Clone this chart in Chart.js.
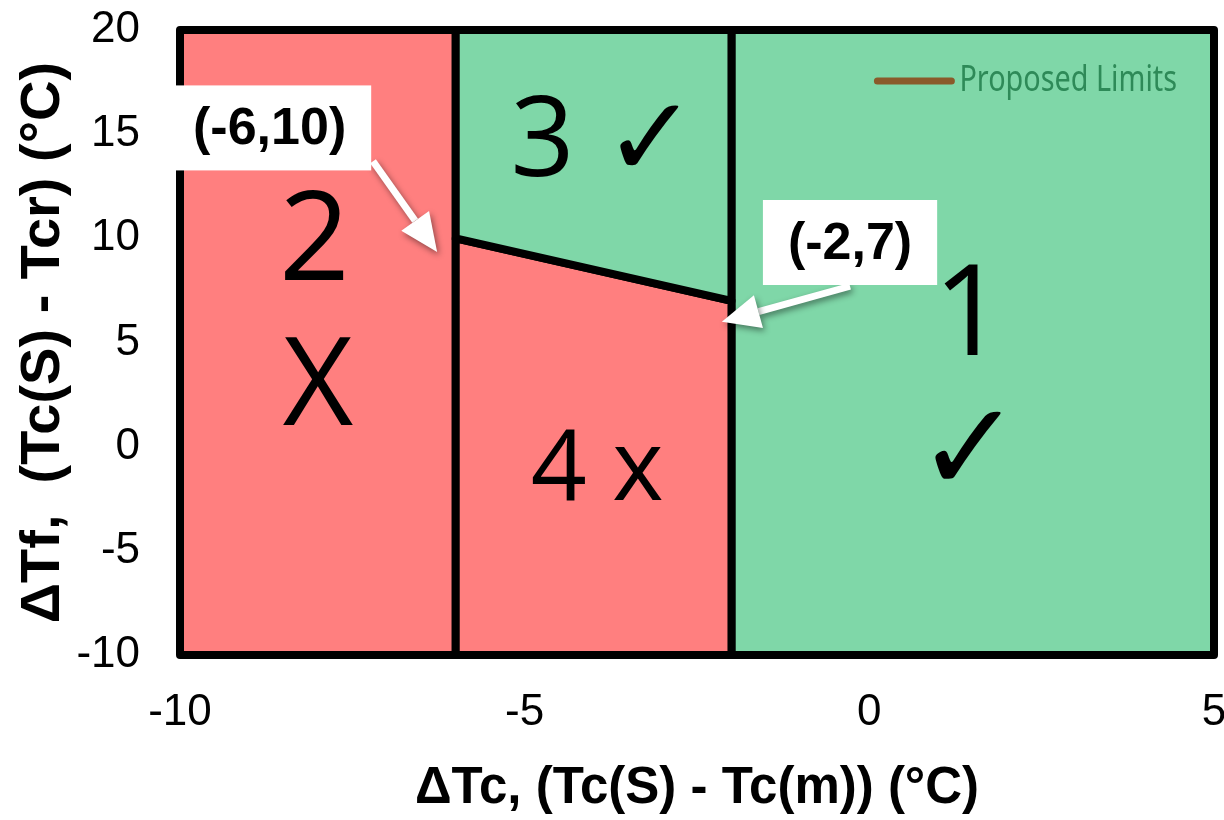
<!DOCTYPE html>
<html>
<head>
<meta charset="utf-8">
<script src="https://cdn.jsdelivr.net/npm/chart.js@4.4.1/dist/chart.umd.min.js"></script>
<style>
  html, body { margin: 0; padding: 0; background: #fff; }
</style>
</head>
<body>
<canvas id="limitsChart" width="1224" height="820"></canvas>
<script>
// axes
const xMin = -10, xMax = 5;
const yMin = -10, yMax = 20;
const tickStep = 5;
const xTitle = '\u0394Tc, (Tc(S) - Tc(m)) (\u00B0C)';
const yTitle = '\u0394Tf,  (Tc(S) - Tcr) (\u00B0C)';

// region outlines (closed), dTc on x, dTf on y
const region1X = [-2, -2, 5, 5, -2];
const region1Y = [-10, 20, 20, -10, -10];
const region2X = [-10, -10, -6, -6, -10];
const region2Y = [-10, 20, 20, -10, -10];
const region3X = [-6, -6, -2, -2, -6];
const region3Y = [10, 20, 20, 7, 10];
const region4X = [-6, -6, -2, -2, -6];
const region4Y = [-10, 10, 7, -10, -10];

// proposed limit line
const limitLabel = 'Proposed Limits';
const limitX = [-6, -6];
const limitY = [20, 10];

// big region labels, placed in data units
const regionText = ['2', 'X', '3 \u2713', '4 x', '1', '\u2713'];
const regionTextX = [-8.05, -8.0, -3.85, -3.95, 1.45, 1.45];
const regionTextY = [9.7, 2.7, 14.5, -1.2, 6.1, -0.4];
const regionTextSize = [124, 122, 112, 98, 126, 126];

// callouts: box centre and arrow tail/tip
const calloutText = ['(-6,10)', '(-2,7)'];
const calloutBoxX = [-8.7, -0.28];
const calloutBoxY = [15.3, 9.8];
const calloutTailX = [-7.2, -0.28];
const calloutTailY = [13.7, 7.7];
const calloutTipX = [-6.27, -2.14];
const calloutTipY = [9.35, 6.0];

const RED = '#ff7f7f';
const GREEN = '#7fd7a8';

function pts(xs, ys) {
  return xs.map((x, i) => ({ x: x, y: ys[i] }));
}

function regionSet(xs, ys, colour, order) {
  return {
    data: pts(xs, ys),
    backgroundColor: colour,
    borderColor: '#000',
    borderWidth: 8,
    borderJoinStyle: 'round',
    borderCapStyle: 'round',
    fill: 'shape',
    tension: 0,
    pointRadius: 0,
    clip: false,
    order: order
  };
}

function drawArrow(ctx, x0, y0, x1, y1) {
  const a = Math.atan2(y1 - y0, x1 - x0);
  const head = 38, half = 17;
  const bx = x1 - head * Math.cos(a), by = y1 - head * Math.sin(a);
  ctx.save();
  ctx.shadowColor = 'rgba(0,0,0,0.45)';
  ctx.shadowBlur = 6;
  ctx.shadowOffsetX = 2;
  ctx.shadowOffsetY = 3;
  ctx.strokeStyle = '#fff';
  ctx.fillStyle = '#fff';
  ctx.lineWidth = 7;
  ctx.beginPath();
  ctx.moveTo(x0, y0);
  ctx.lineTo(bx, by);
  ctx.stroke();
  ctx.beginPath();
  ctx.moveTo(x1, y1);
  ctx.lineTo(bx + half * Math.sin(a), by - half * Math.cos(a));
  ctx.lineTo(bx - half * Math.sin(a), by + half * Math.cos(a));
  ctx.closePath();
  ctx.fill();
  ctx.restore();
}

const overlay = {
  id: 'overlay',
  afterDatasetsDraw(chart) {
    const { ctx, chartArea, scales: { x, y } } = chart;
    ctx.save();

    // region numbers and marks
    ctx.fillStyle = '#000';
    ctx.textAlign = 'center';
    ctx.textBaseline = 'middle';
    regionText.forEach((t, i) => {
      ctx.font = regionTextSize[i] + 'px "Open Sans", "DejaVu Sans ExtraLight", "DejaVu Sans", sans-serif';
      ctx.fillText(t, x.getPixelForValue(regionTextX[i]), y.getPixelForValue(regionTextY[i]));
    });

    // callout arrows then boxes
    calloutText.forEach((t, i) => {
      drawArrow(ctx,
        x.getPixelForValue(calloutTailX[i]), y.getPixelForValue(calloutTailY[i]),
        x.getPixelForValue(calloutTipX[i]), y.getPixelForValue(calloutTipY[i]));
    });
    ctx.font = 'bold 52px "Liberation Sans", Arial, sans-serif';
    calloutText.forEach((t, i) => {
      const cx = x.getPixelForValue(calloutBoxX[i]);
      const cy = y.getPixelForValue(calloutBoxY[i]);
      const w = ctx.measureText(t).width + 50;
      const h = 85;
      ctx.fillStyle = '#fff';
      ctx.fillRect(cx - w / 2, cy - h / 2, w, h);
      ctx.fillStyle = '#000';
      ctx.fillText(t, cx, cy + 2);
    });

    // legend, top right inside the plot
    const ly = chartArea.top + 51;
    const textRight = chartArea.right - 37;
    ctx.font = '36px "Noto Sans", "Open Sans", sans-serif';
    const squeeze = 0.8;
    const tw = ctx.measureText(limitLabel).width * squeeze;
    const textLeft = textRight - tw;
    ctx.strokeStyle = '#8a5a2a';
    ctx.lineWidth = 7;
    ctx.lineCap = 'round';
    ctx.beginPath();
    ctx.moveTo(textLeft - 82, ly);
    ctx.lineTo(textLeft - 8, ly);
    ctx.stroke();
    ctx.save();
    ctx.translate(textLeft, ly);
    ctx.scale(squeeze, 1);
    ctx.fillStyle = '#2e8a58';
    ctx.textAlign = 'left';
    ctx.textBaseline = 'middle';
    ctx.fillText(limitLabel, 0, 0);
    ctx.restore();

    ctx.restore();
  }
};

const tickFont = { family: '"Liberation Sans", Arial, sans-serif', size: 44 };
const xTitleFont = { family: '"Liberation Sans", Arial, sans-serif', size: 51, weight: 'bold' };
const yTitleFont = { family: '"Liberation Sans", Arial, sans-serif', size: 56, weight: 'bold' };

new Chart(document.getElementById('limitsChart'), {
  type: 'line',
  data: {
    datasets: [
      regionSet(region1X, region1Y, GREEN, 4),
      regionSet(region2X, region2Y, RED, 3),
      regionSet(region4X, region4Y, RED, 2),
      regionSet(region3X, region3Y, GREEN, 1),
      {
        label: limitLabel,
        data: pts(limitX, limitY),
        borderColor: '#8a5a2a',
        borderWidth: 11,
        fill: false,
        pointRadius: 0,
        clip: false,
        order: 5
      }
    ]
  },
  options: {
    responsive: false,
    animation: false,
    layout: { autoPadding: false, padding: { top: 30, right: 10, left: 0, bottom: 0 } },
    plugins: {
      legend: { display: false },
      tooltip: { enabled: false }
    },
    scales: {
      x: {
        type: 'linear',
        min: xMin,
        max: xMax,
        ticks: { stepSize: tickStep, font: tickFont, color: '#000', padding: 31 },
        grid: { display: false, drawTicks: false },
        border: { display: false },
        title: { display: true, text: xTitle, font: xTitleFont, color: '#000', padding: { top: 0, bottom: 0 } },
        afterFit(s) { s.height = 165; s.paddingLeft = 0; s.paddingRight = 0; }
      },
      y: {
        type: 'linear',
        min: yMin,
        max: yMax,
        ticks: { stepSize: tickStep, font: tickFont, color: '#000', padding: 40 },
        grid: { display: false, drawTicks: false },
        border: { display: false },
        title: { display: true, text: yTitle, font: yTitleFont, color: '#000', padding: { top: 10, bottom: 0 } },
        afterFit(s) { s.width = 180; s.paddingTop = 0; s.paddingBottom = 0; }
      }
    }
  },
  plugins: [overlay]
});
</script>
</body>
</html>
